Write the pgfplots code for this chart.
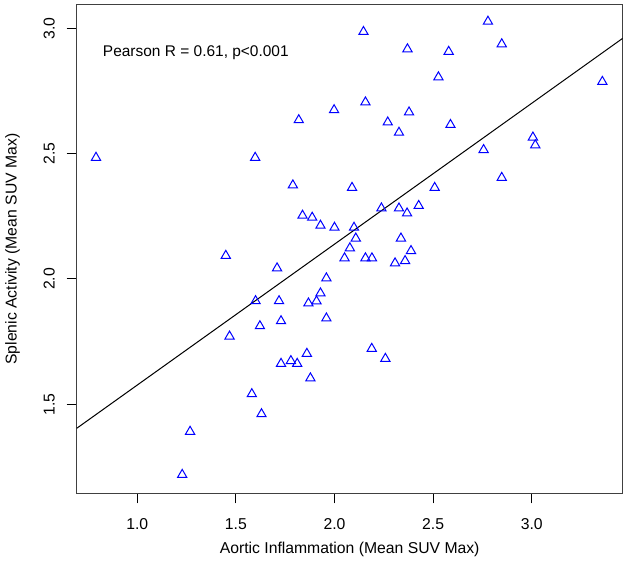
\documentclass[border=0pt]{standalone}
\usepackage{fontspec}
\setmainfont{Liberation Sans}
\usepackage{pgfplots}
\pgfplotsset{compat=1.18}
\pgfplotstableread{
x y
0.791 2.484
1.598 2.484
1.819 2.634
1.998 2.674
1.789 2.374
2.147 2.986
2.778 3.027
2.370 2.917
2.579 2.907
2.848 2.937
2.527 2.805
3.358 2.787
2.157 2.705
2.378 2.665
2.270 2.625
2.327 2.584
2.588 2.615
3.006 2.565
3.018 2.534
2.756 2.515
2.848 2.404
2.508 2.364
2.089 2.364
2.238 2.282
2.327 2.282
2.368 2.262
2.427 2.292
1.838 2.253
1.887 2.245
1.929 2.213
2.000 2.205
2.099 2.205
2.108 2.162
2.337 2.162
2.078 2.123
2.388 2.112
2.051 2.083
2.157 2.083
2.190 2.083
2.307 2.063
2.358 2.072
1.449 2.093
1.709 2.043
1.959 2.003
1.929 1.943
1.909 1.911
1.868 1.903
1.600 1.912
1.719 1.912
1.729 1.832
1.959 1.843
1.622 1.812
1.468 1.771
1.860 1.702
1.729 1.662
1.779 1.673
1.811 1.662
1.878 1.604
1.581 1.541
1.630 1.461
1.268 1.391
1.228 1.219
2.189 1.722
2.258 1.682
}\datatable
\begin{document}
\begin{tikzpicture}
\begin{axis}[
  scale only axis, width=409.5pt, height=366.2pt,
  xmin=0.693, xmax=3.461, ymin=1.145, ymax=3.093,
  axis line style={draw=black!75, line width=0.75pt},
  xtick={1,1.5,2,2.5,3}, ytick={1.5,2,2.5,3},
  xticklabels={1.0,1.5,2.0,2.5,3.0}, yticklabels={1.5,2.0,2.5,3.0},
  xtick pos=bottom, ytick pos=left,
  tick align=outside, major tick length=7.5pt,
  tick style={black, line width=0.75pt},
  every tick label/.append style={font=\fontsize{11.8pt}{13pt}\selectfont},
  xticklabel style={anchor=center, inner sep=0pt},
  xticklabel shift=15.5pt,
  yticklabel style={rotate=90, anchor=center, inner sep=0pt},
  yticklabel shift=13pt,
  xlabel={Aortic Inflammation (Mean SUV Max)},
  ylabel={Splenic Activity (Mean SUV Max)},
  label style={font=\fontsize{11.8pt}{13pt}\selectfont, inner sep=0pt},
  xlabel style={at={([yshift=-42pt]axis description cs:0.5,0)}, anchor=center},
  ylabel style={at={([xshift=-48pt]axis description cs:0,0.5)}, anchor=center, rotate=0},
  clip=true,
]
\addplot[black, line width=0.75pt] coordinates {(0.693,1.404) (3.461,2.960)};
\addplot[only marks, mark=triangle, mark size=4pt, color=blue, mark options={line width=0.75pt, fill=none}] table[x=x, y=y] {\datatable};
\node[anchor=west, inner sep=0pt, font=\fontsize{11.6pt}{13pt}\selectfont] at (axis cs:0.825,2.903) {Pearson R = 0.61, p<0.001};
\end{axis}
\pgfresetboundingbox
\path ([xshift=-57.5pt,yshift=-60.5pt]current axis.south west) rectangle ([xshift=4pt,yshift=3.75pt]current axis.north east);
\end{tikzpicture}
\end{document}
